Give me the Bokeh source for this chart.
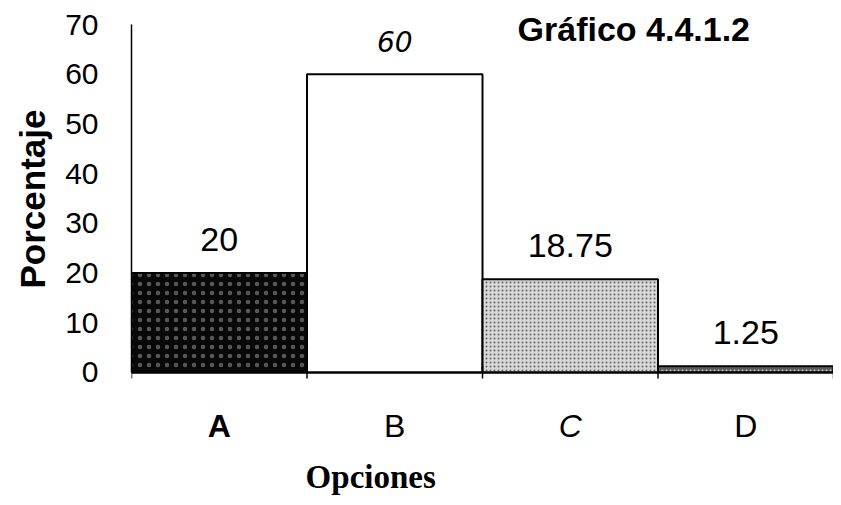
import math
from bokeh.plotting import figure
from bokeh.models import ColumnDataSource, Range1d, FixedTicker, Span, Title
from bokeh.core.properties import value
from bokeh.embed import file_html
from bokeh.resources import INLINE

# ---- data ----
categories = ["A", "B", "C", "D"]
values = [20, 60, 18.75, 1.25]
value_labels = ["20", "60", "18.75", "1.25"]
y_ticks = [0, 10, 20, 30, 40, 50, 60, 70]
y_max = 70
title_text = "Gráfico 4.4.1.2"
x_title = "Opciones"
y_title = "Porcentaje"

# ---- styles ----
fill_colors = ["#080808", "#ffffff", "#d8d8d8", "#5a5a5a"]
hatch_patterns = ["dot", "blank", "dot", "dot"]
hatch_colors = ["#cccccc", "#ffffff", "#555555", "#dddddd"]
hatch_scales = [9, 6, 4, 4]
hatch_alphas = [0.4, 0.0, 0.9, 0.8]
vl_fonts = ["Liberation Sans", "DejaVu Sans", "Liberation Sans", "Liberation Sans"]
vl_styles = ["normal", "italic", "normal", "normal"]
vl_sizes = ["34px", "28px", "34px", "34px"]
cat_styles = ["bold", "normal", "italic", "normal"]

# ---- layout-only constants ----
n = len(categories)
centers = [i + 0.5 for i in range(n)]      # category slot centres on a 0..n axis
edges = list(range(n + 1))                 # category slot boundaries
view_top = 74.83                           # headroom above 70 for the chart title
view_bottom = -25.15                       # room below zero for names and axis title
cat_label_y = -10.7
x_title_y = -21.1
title_pos = (2.862, 69.0)

src = ColumnDataSource(dict(
    x=centers, cat=categories, val=values, vlabel=value_labels,
    fill=fill_colors, hatch=hatch_patterns, hcolor=hatch_colors, hscale=hatch_scales,
    halpha=hatch_alphas, vfont=vl_fonts, vstyle=vl_styles, vsize=vl_sizes,
))
cat_src = ColumnDataSource(dict(x=centers, cat=categories, style=cat_styles,
                                y=[cat_label_y] * n))
edge_src = ColumnDataSource(dict(x=edges, y=[0] * len(edges)))

p = figure(x_range=Range1d(0, n), y_range=Range1d(view_bottom, view_top),
           width=833, height=497,
           min_border_left=123, min_border_right=0, min_border_top=0, min_border_bottom=0,
           output_backend="svg", toolbar_location=None, tools="")
p.outline_line_color = None
p.grid.visible = False
p.background_fill_color = "white"
p.border_fill_color = "white"

p.vbar(x="x", top="val", width=1.0, source=src, fill_color="fill",
       line_color="black", line_width=2,
       hatch_pattern="hatch", hatch_color="hcolor", hatch_scale="hscale",
       hatch_alpha="halpha", hatch_weight=1.0)

# baseline and boundary ticks of the category axis
p.add_layout(Span(location=0, dimension="width", line_color="black", line_width=2))
p.scatter(x="x", y="y", source=edge_src, marker="dash", angle=math.pi / 2, size=12,
          line_color="black", line_width=1.5)

p.text(x="x", y="val", text="vlabel", source=src, y_offset=-22,
       text_align="center", text_baseline="bottom",
       text_font="vfont", text_font_style="vstyle", text_font_size="vsize", text_color="black")

# category names under the baseline
p.text(x="x", y="y", text="cat", source=cat_src, text_align="center", text_baseline="middle",
       text_font=value("Liberation Sans"), text_font_style="style",
       text_font_size="32px", text_color="black")

# x-axis title
p.text(x=[1.363], y=[x_title_y], text=[x_title], text_align="center", text_baseline="middle",
       text_font=value("Liberation Serif"), text_font_style="bold", text_font_size="33px",
       text_color="black")

# chart title
p.text(x=[title_pos[0]], y=[title_pos[1]], text=[title_text], text_align="center",
       text_baseline="middle", text_font=value("Liberation Sans"), text_font_style="bold",
       text_font_size="34px", text_color="black")

# y axis
ya = p.yaxis[0]
ya.ticker = FixedTicker(ticks=y_ticks)
ya.bounds = (0, y_max)
ya.major_tick_out = 0
ya.major_tick_in = 0
ya.minor_tick_out = 0
ya.minor_tick_in = 0
ya.axis_line_color = "black"
ya.axis_line_width = 1.5
ya.major_label_text_font = "Liberation Sans"
ya.major_label_text_font_size = "30px"
ya.major_label_text_color = "black"
ya.major_label_standoff = 33

p.xaxis.visible = False

# y-axis title as a side title so it can sit beside the 0..70 span
p.add_layout(Title(text=y_title, align="left", offset=209, standoff=21,
                   text_font="Liberation Sans", text_font_style="bold",
                   text_font_size="35px", text_color="black"), "left")

open("out.html", "w").write(file_html(p, INLINE))
